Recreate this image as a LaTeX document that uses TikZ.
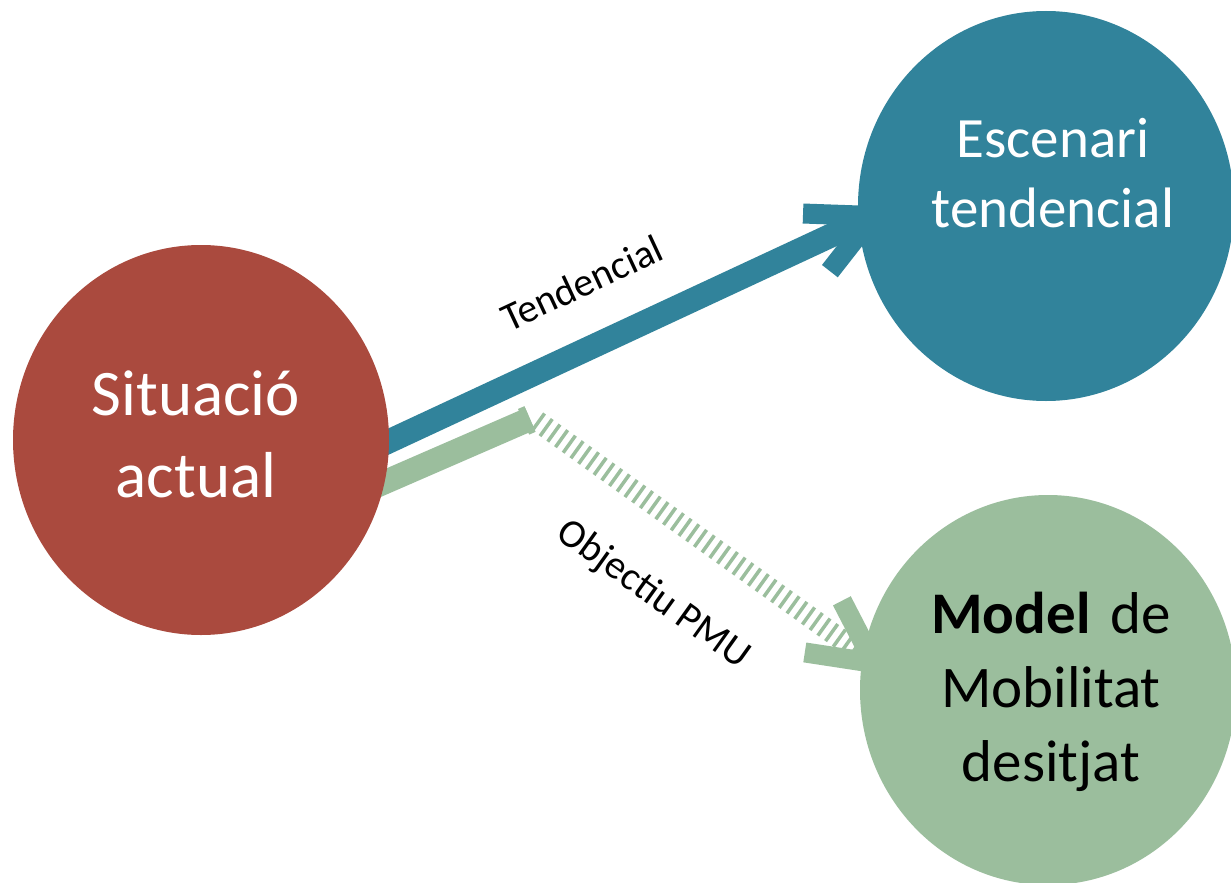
\documentclass[tikz,border=0pt]{standalone}
\usepackage{fontspec}
\setmainfont{Carlito}
\usetikzlibrary{calc,shapes.geometric}
\pgfdeclarelayer{bg}
\pgfsetlayers{bg,main}
\definecolor{cred}{HTML}{AA4A3E}
\definecolor{cblue}{HTML}{31839B}
\definecolor{cgreen}{HTML}{9BBE9D}
\begin{document}
\begin{tikzpicture}[x=1pt,y=-1pt,
  blob/.style={ellipse, minimum width=376pt, minimum height=390pt, inner sep=0pt},
  bigtxt/.style={text width=380pt, align=center, anchor=base, inner sep=0pt},
  shaft/.style={line width=24pt, line cap=butt},
  barb/.style={line width=20pt, line cap=butt, line join=miter},
  hatch/.style={line width=21pt, line cap=butt, dash pattern=on 3.5pt off 6pt},
  lab/.style={font=\fontsize{40}{46}\selectfont, inner sep=0pt}]
\useasboundingbox (0,0) rectangle (1231,883);
% circles
\node[blob, fill=cred] (red) at (201,440) {};
\node[blob, fill=cblue] (blue) at (1046,206) {};
\node[blob, fill=cgreen] (green) at (1048,690) {};
% circle texts
\node[bigtxt, text=white, font=\fontsize{65}{82}\selectfont] (redtxt) at (196,415) {Situació\\actual};
\node[bigtxt, text=white, font=\fontsize{57}{70}\selectfont] (bluetxt) at (1053,157) {Escenari\\tendencial};
\node[bigtxt, text=black, font=\fontsize{59}{74}\selectfont] (greentxt) at (1051,633) {\textbf{Model}~de\\Mobilitat\\desitjat};
% labels
\node[lab, rotate=25] (tlab) at (582,283) {Tendencial};
\node[lab, rotate=-35.6] (olab) at (653,595) {Objectiu PMU};
% connectors
\begin{pgfonlayer}{bg}
\fill[white] (0,0) rectangle (1231,883);
\coordinate (bS) at ($(red.center)+(135,26)$);
\coordinate (bT) at ($(blue.center)+(-173,10)$);
\coordinate (gS) at ($(red.center)+(129,66)$);
\coordinate (gM) at ($(red.center)+(329,-21)$);
\coordinate (gD) at ($(red.center)+(336,-19)$);
\coordinate (gT) at ($(green.center)+(-174,-27)$);
\draw[shaft, cblue] (bS) -- (bT);
\draw[barb, cblue] ($(bT)!70pt!27:(bS)$) -- (bT) -- ($(bT)!70pt!-27:(bS)$);
\draw[shaft, cgreen] (gS) -- (gM);
\draw[cgreen, line width=28pt, line cap=butt] ($(gM)!7pt!(gS)$) -- (gM);
\draw[hatch, cgreen] (gD) -- (gT);
\draw[barb, cgreen] ($(gT)!70pt!27:(gD)$) -- (gT) -- ($(gT)!70pt!-27:(gD)$);
\end{pgfonlayer}
\end{tikzpicture}
\end{document}
